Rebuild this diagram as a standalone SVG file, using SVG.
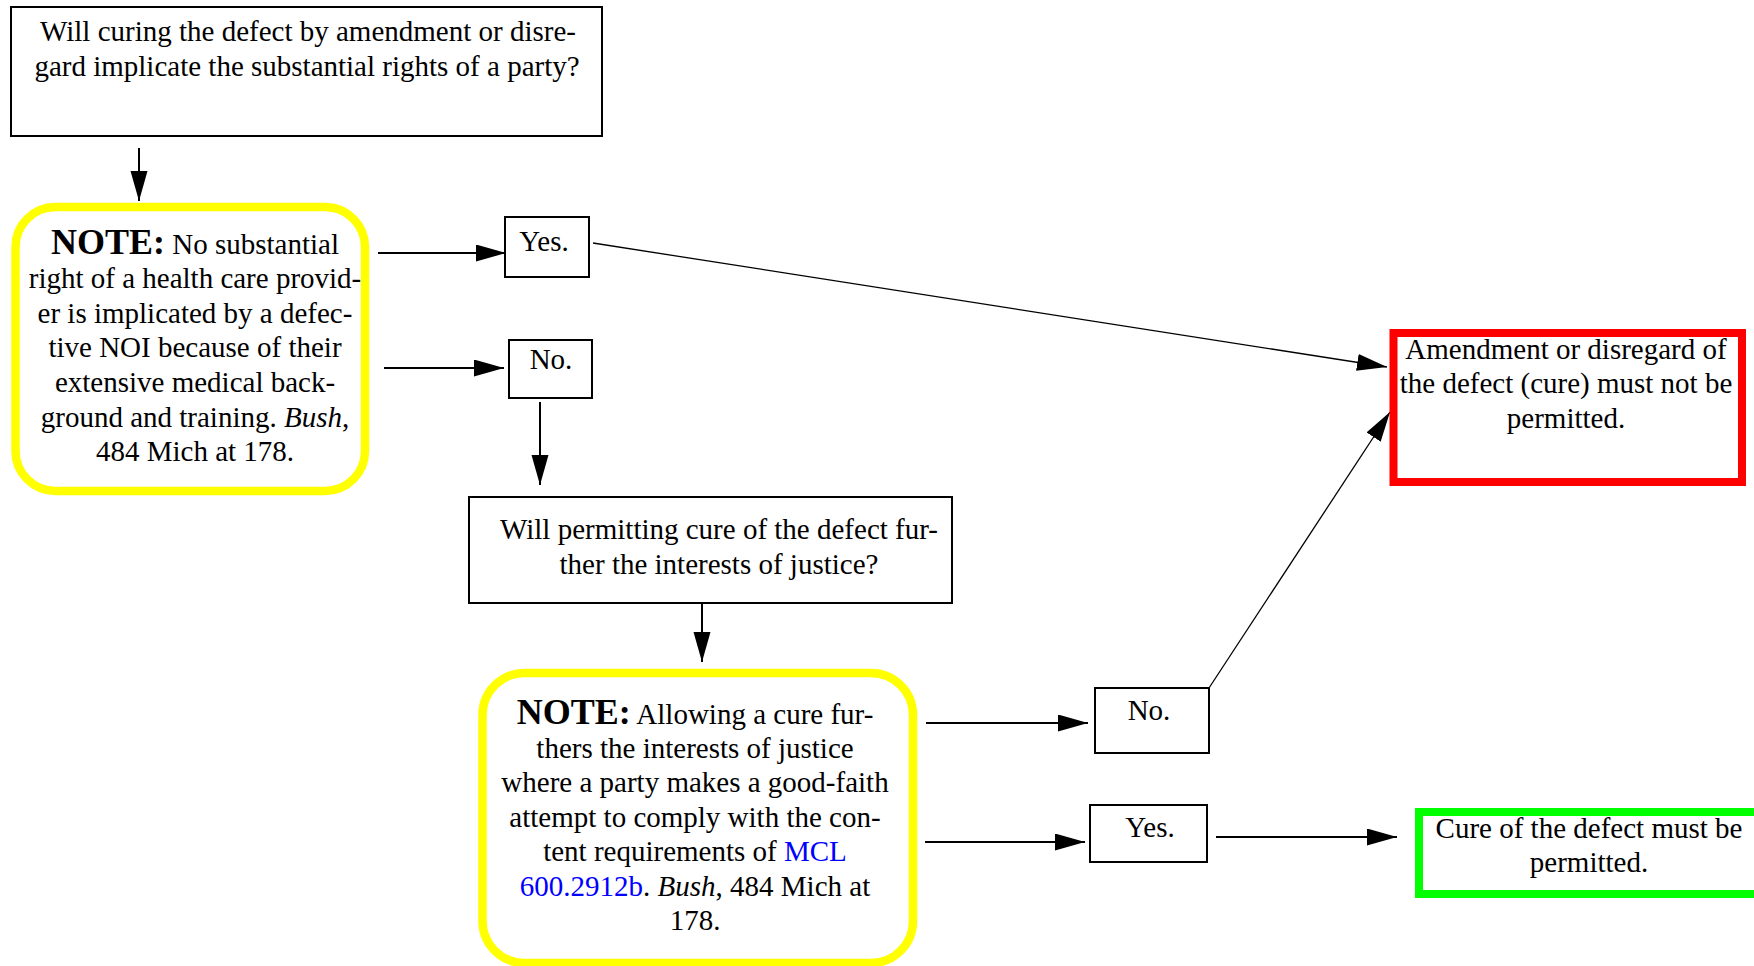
<svg xmlns="http://www.w3.org/2000/svg" width="1754" height="966" viewBox="0 0 1754 966">
<style>
.t{font-family:"Liberation Serif","Times New Roman",serif;font-size:29px;fill:#000;text-anchor:middle}
.b{font-weight:bold;font-size:36px}
.i{font-style:italic}
.lnk{fill:#0000FF}
.box{fill:#fff;stroke:#000;stroke-width:2}
.note{fill:#fff;stroke:#FFFF00;stroke-width:8.5}
.c{stroke:#000;stroke-width:2;fill:none;marker-end:url(#ah)}
.ct{stroke:#000;stroke-width:1.3;fill:none;marker-end:url(#ah)}
</style>
<defs>
<marker id="ah" markerUnits="userSpaceOnUse" markerWidth="31" markerHeight="18" refX="30" refY="8.5" orient="auto">
<path d="M0,0 L30,8.5 L0,17 z" fill="#000"/>
</marker>
</defs>
<rect width="1754" height="966" fill="#fff"/>
<g id="connectors">
<line class="c" x1="139" y1="148" x2="139" y2="201"/>
<line class="c" x1="378" y1="253" x2="506" y2="253"/>
<line class="c" x1="384" y1="368" x2="504" y2="368"/>
<line class="c" x1="540" y1="402" x2="540" y2="485"/>
<line class="c" x1="702" y1="603" x2="702" y2="662"/>
<line class="ct" x1="593" y1="243" x2="1387" y2="367"/>
<line class="c" x1="926" y1="723" x2="1088" y2="723"/>
<line class="c" x1="925" y1="842" x2="1085" y2="842"/>
<line class="ct" x1="1209" y1="688" x2="1390" y2="412"/>
<line class="c" x1="1216" y1="837" x2="1397" y2="837"/>
</g>
<g id="q1">
<rect class="box" x="11" y="7" width="591" height="129"/>
<text class="t" x="308" y="41">Will curing the defect by amendment or disre-</text>
<text class="t" x="307" y="75.5">gard implicate the substantial rights of a party?</text>
</g>
<g id="note1">
<rect class="note" x="15.5" y="207" width="349.5" height="284" rx="40" ry="40"/>
<text class="t" x="195" y="253.5"><tspan class="b">NOTE:</tspan> No substantial</text>
<text class="t" x="195" y="288.1">right of a health care provid-</text>
<text class="t" x="195" y="322.7">er is implicated by a defec-</text>
<text class="t" x="195" y="357.3">tive NOI because of their</text>
<text class="t" x="195" y="391.9">extensive medical back-</text>
<text class="t" x="195" y="426.5">ground and training. <tspan class="i">Bush</tspan>,</text>
<text class="t" x="195" y="461.1">484 Mich at 178.</text>
</g>
<g id="yes1">
<rect class="box" x="505" y="217" width="84" height="60"/>
<text class="t" x="544" y="250.5">Yes.</text>
</g>
<g id="no1">
<rect class="box" x="509" y="340" width="83" height="58"/>
<text class="t" x="551" y="368.5">No.</text>
</g>
<g id="q2">
<rect class="box" x="469" y="497" width="483" height="106"/>
<text class="t" x="719" y="538.5">Will permitting cure of the defect fur-</text>
<text class="t" x="719" y="573.5">ther the interests of justice?</text>
</g>
<g id="note2">
<rect class="note" x="482.5" y="673" width="430.5" height="290" rx="42" ry="42"/>
<text class="t" x="695" y="723.5"><tspan class="b">NOTE:</tspan> Allowing a cure fur-</text>
<text class="t" x="695" y="757.9">thers the interests of justice</text>
<text class="t" x="695" y="792.3">where a party makes a good-faith</text>
<text class="t" x="695" y="826.7">attempt to comply with the con-</text>
<text class="t" x="695" y="861.1">tent requirements of <tspan class="lnk">MCL</tspan></text>
<text class="t" x="695" y="895.5"><tspan class="lnk">600.2912b</tspan>. <tspan class="i">Bush</tspan>, 484 Mich at</text>
<text class="t" x="695" y="929.9">178.</text>
</g>
<g id="no2">
<rect class="box" x="1095" y="688" width="114" height="65"/>
<text class="t" x="1149" y="719.5">No.</text>
</g>
<g id="yes2">
<rect class="box" x="1090" y="805" width="117" height="57"/>
<text class="t" x="1150" y="836.5">Yes.</text>
</g>
<g id="deny">
<rect x="1393.5" y="333" width="348.5" height="149" fill="#fff" stroke="#FF0000" stroke-width="8"/>
<text class="t" x="1566" y="358.5">Amendment or disregard of</text>
<text class="t" x="1566" y="392.5">the defect (cure) must not be</text>
<text class="t" x="1566" y="427.5">permitted.</text>
</g>
<g id="permit">
<rect x="1419" y="812" width="345" height="82" fill="#fff" stroke="#00FF00" stroke-width="8"/>
<text class="t" x="1589" y="837.5">Cure of the defect must be</text>
<text class="t" x="1589" y="871.5">permitted.</text>
</g>
</svg>
